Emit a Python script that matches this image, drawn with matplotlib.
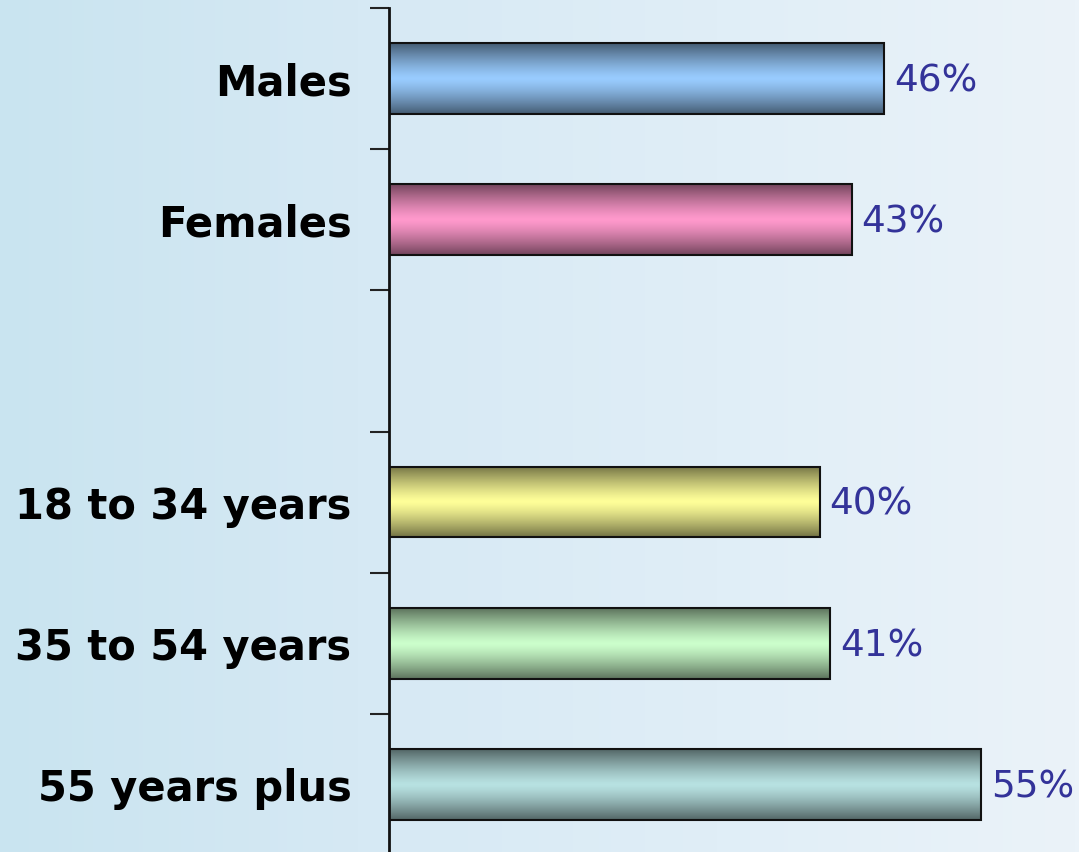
import numpy as np
import matplotlib
matplotlib.use("Agg")
import matplotlib.pyplot as plt
from matplotlib.colors import LinearSegmentedColormap, to_rgb

# data
categories = ["Males", "Females", "18 to 34 years", "35 to 54 years", "55 years plus"]
positions = [0, 1, 3, 4, 5]  # slot 2 is left empty
values = [46, 43, 40, 41, 55]
light_colors = ["#99CCFF", "#FF99CC", "#FFFF99", "#CCFFCC", "#B8E2E2"]

fig = plt.figure(figsize=(10.79, 8.52), dpi=100)

# background gradient, light blue on the left to almost white on the right
bg = fig.add_axes([0, 0, 1, 1], zorder=0)
bg_cmap = LinearSegmentedColormap.from_list("bg", ["#C9E4F0", "#D6E9F4", "#E0EEF7", "#EBF3F9"])
bg.imshow(np.linspace(0, 1, 256).reshape(1, -1), cmap=bg_cmap, aspect="auto", extent=[0, 1, 0, 1])
bg.axis("off")

ax = fig.add_axes([389 / 1079, -3 / 852, 690 / 1079, 847 / 852], zorder=1)
ax.set_facecolor("none")

bars = ax.barh(positions, values, height=0.5, color="none", edgecolor="#111111", linewidth=1.5, zorder=3)

# vertical shading: dark at the edges, light in the middle
t = np.linspace(0, 1, 200)
shade = 1 - 0.55 * np.abs(t - 0.5) ** 1.3 / 0.5 ** 1.3
for bar, c in zip(bars, light_colors):
    rgb = np.array(to_rgb(c))
    img = (shade[:, None, None] * rgb[None, None, :]) * np.ones((1, 2, 3))
    x0, y0 = bar.get_x(), bar.get_y()
    w, h = bar.get_width(), bar.get_height()
    ax.imshow(img, extent=[x0, x0 + w, y0 + h, y0], aspect="auto", zorder=2, interpolation="bilinear")

for p, v in zip(positions, values):
    ax.text(v + 0.9, p + 0.02, f"{v}%", va="center", ha="left", fontsize=27, color="#333399")

ax.set_xlim(0, 64.1)
ax.set_ylim(5.5, -0.5)

ax.set_yticks(np.arange(-0.5, 6, 1))
ax.set_yticklabels([])
ax.tick_params(axis="y", which="major", length=14, width=1.5, color="#222222")
ax.set_yticks(positions, minor=True)
ax.set_yticklabels(categories, minor=True, fontsize=30, fontweight="bold")
ax.tick_params(axis="y", which="minor", length=0, pad=27)

ax.set_xticks([])
for s in ["top", "right", "bottom"]:
    ax.spines[s].set_visible(False)
ax.spines["left"].set_linewidth(2)
ax.spines["left"].set_color("#111111")

fig.savefig("out.png", dpi=100)
